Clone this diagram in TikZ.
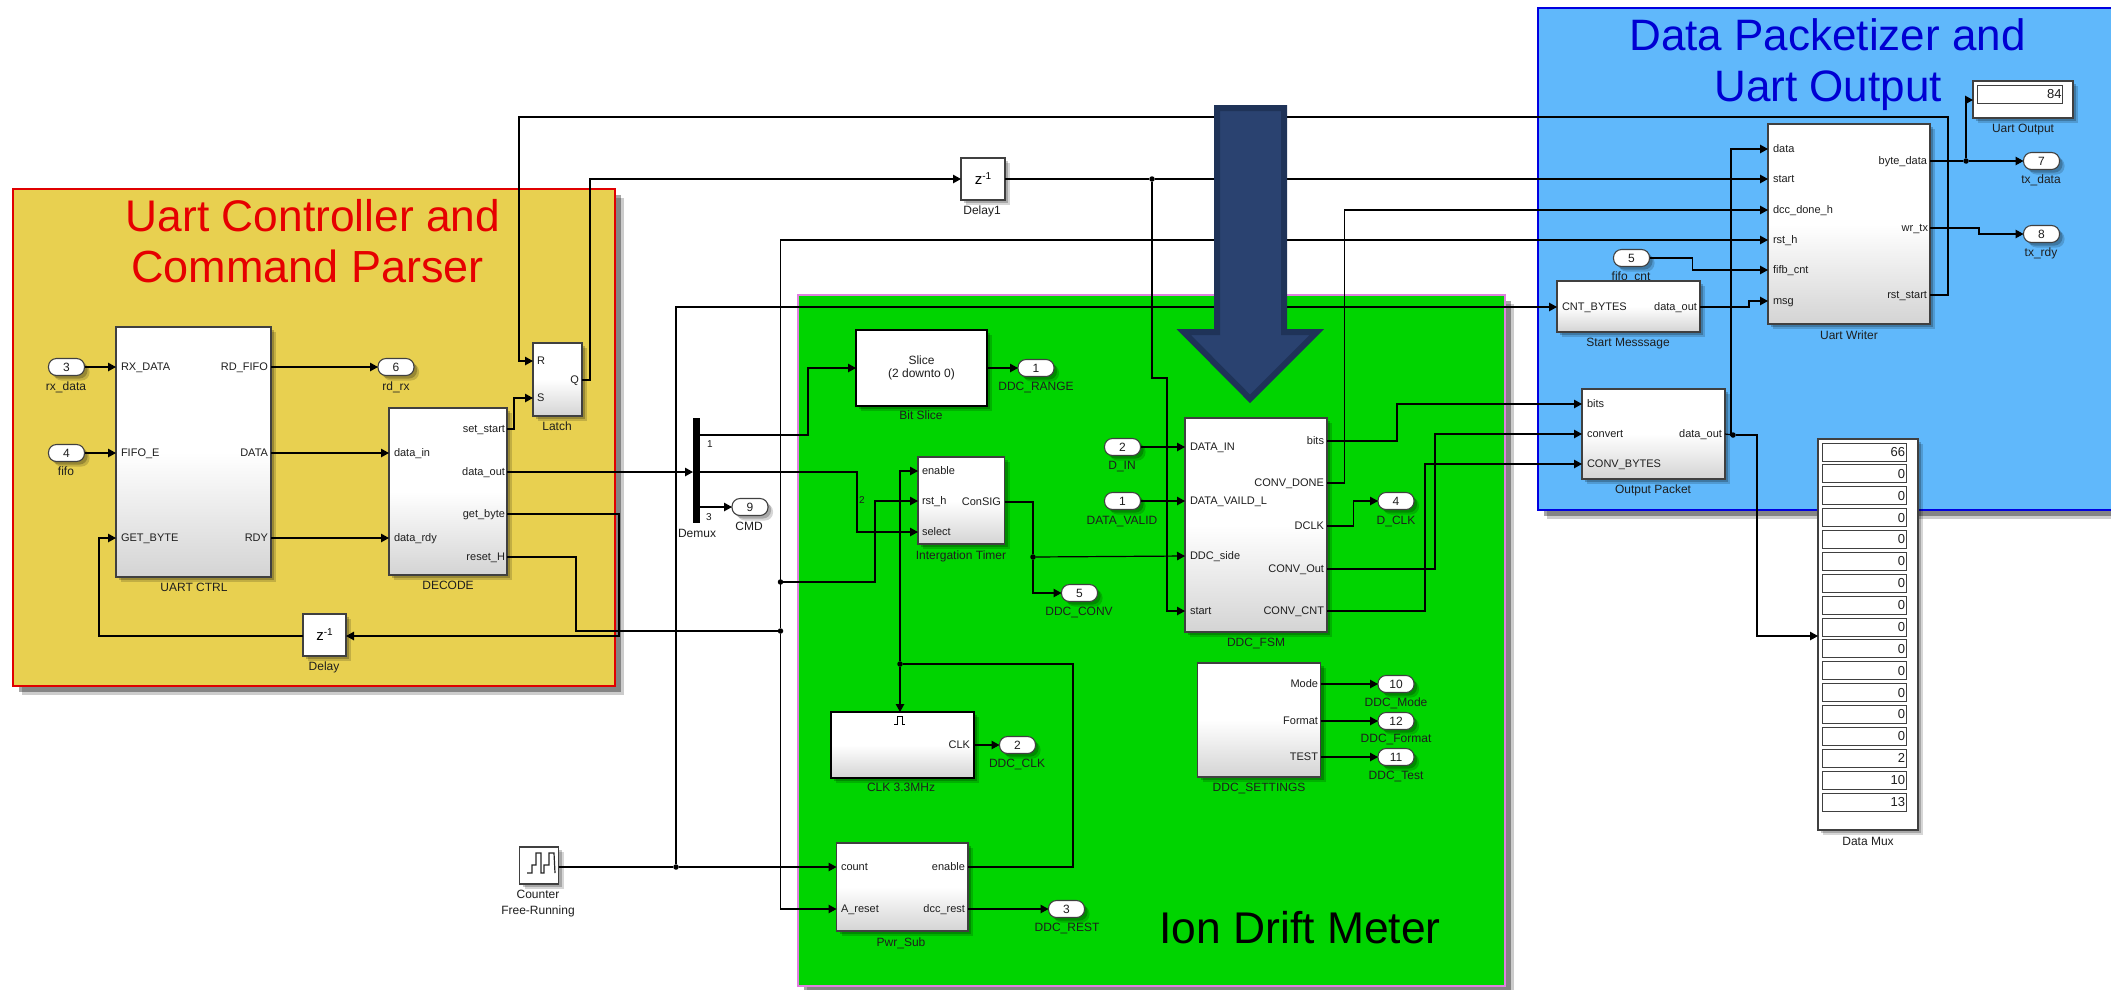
\documentclass[tikz,border=0pt]{standalone}
\usepackage{fontspec}
\setmainfont{Liberation Sans}
\usetikzlibrary{arrows.meta,shadows}
\definecolor{uartbg}{HTML}{E8D050}
\definecolor{greenbg}{HTML}{00D400}
\definecolor{bluebg}{HTML}{60B8FB}
\definecolor{arrowfill}{HTML}{2A4270}
\definecolor{arrowline}{HTML}{1F3358}
\definecolor{ink}{HTML}{1E1E1E}
\definecolor{redline}{HTML}{E00000}
\definecolor{pinkline}{HTML}{E080E0}
\definecolor{blueline}{HTML}{0000E0}
\definecolor{redtitle}{HTML}{E60000}
\definecolor{bluetitle}{HTML}{0000D2}
\newcommand\sz[1]{\fontsize{#1}{#1}\selectfont}
\tikzset{
 softshadow/.style={general shadow={fill=black,opacity=.16,shadow xshift=5pt,shadow yshift=-5pt},
                    general shadow={fill=black,opacity=.22,shadow xshift=3pt,shadow yshift=-3pt}},
 bigshadow/.style={general shadow={fill=black,opacity=.2,shadow xshift=9pt,shadow yshift=-9pt},
                   general shadow={fill=black,opacity=.35,shadow xshift=6pt,shadow yshift=-6pt}},
 blockbox/.style={draw=black!75,line width=1.2pt,softshadow,top color=white,bottom color=black!17,middle color=white,inner sep=0pt,outer sep=0pt},
 plainbox/.style={draw=black!75,line width=1.2pt,softshadow,fill=white,inner sep=0pt,outer sep=0pt},
 heavybox/.style={draw=black,line width=2.4pt,softshadow,inner sep=0pt,outer sep=0pt},
 groupbox/.style={line width=1.2pt,bigshadow,inner sep=0pt,outer sep=0pt},
 wire/.style={draw=black,line width=1.2pt,line join=miter},
 arrowed/.style={wire,-{Triangle[length=8pt,width=8.5pt]}},
 ptext/.style={inner sep=0pt,outer sep=0pt,text height=8pt,text depth=2pt,text=ink,font=\sz{11}},
 caption/.style={inner sep=0pt,outer sep=0pt,text height=8.5pt,text depth=2.5pt,text=ink,font=\sz{12}},
 pillnode/.style={draw=black!75,line width=1.1pt,fill=white,rounded corners=8pt,minimum width=36pt,minimum height=17pt,inner sep=0pt,outer sep=0pt,softshadow,text=ink,font=\sz{12}},
 junction/.style={circle,fill=black,minimum size=5.5pt,inner sep=0pt,outer sep=0pt},
 title/.style={inner sep=0pt,outer sep=0pt,font=\sz{44}},
 cellbox/.style={draw=black!75,line width=1pt,fill=white,minimum width=84pt,minimum height=18pt,text width=82pt,align=right,inner sep=0pt,outer sep=0pt,text=ink,font=\sz{13}},
}
% name, x1, y1, x2, y2, style, text
\newcommand\blk[7]{%
 \pgfmathsetmacro\bw{#4-#2}\pgfmathsetmacro\bh{#5-#3}%
 \node[#6,minimum width=\bw pt,minimum height=\bh pt] (#1) at ({(#2+#4)/2},{(#3+#5)/2}) {#7};}
\newcommand\pl[4]{\node[ptext,anchor=west] (#1) at (#2,#3) {#4};}
\newcommand\pr[4]{\node[ptext,anchor=east] (#1) at (#2,#3) {#4};}
\newcommand\lbl[4]{\node[caption] (#1) at (#2,#3) {#4};}
\newcommand\pill[4]{\node[pillnode] (#1) at (#2,#3) {#4};}
\newcommand\jn[3]{\node[junction] (#1) at (#2,#3) {};}
\newcommand\zinv{\sz{15}z\raisebox{5pt}{\sz{10}-1}}
\begin{document}
\begin{tikzpicture}[x=1pt,y=-1pt]
\path[use as bounding box,clip] (0,0) rectangle (2111,989);
\fill[white] (0,0) rectangle (2111,989);
% group panels
\blk{uartpanel}{13}{189}{615}{686}{groupbox,draw=redline,fill=uartbg}{}
\blk{greenpanel}{798}{295}{1505}{986}{groupbox,draw=pinkline,fill=greenbg}{}
\blk{bluepanel}{1538}{8}{2135}{510}{groupbox,draw=blueline,fill=bluebg}{}
% titles
\node[title,font=\sz{44.3},text=redtitle,anchor=base] (uarttitle1) at (313,231) {Uart Controller and};
\node[title,font=\sz{45},text=redtitle,anchor=base] (uarttitle2) at (307.5,282) {Command Parser};
\node[title,text=bluetitle,anchor=base] (bluetitle1) at (1827.5,50) {Data Packetizer and};
\node[title,text=bluetitle,anchor=base] (bluetitle2) at (1828,101) {Uart Output};
\node[title,font=\sz{44.4},text=black,anchor=base] (greentitle) at (1300,943) {Ion Drift Meter};
% captions (the fifo_cnt caption is partly covered by Start Messsage)
\lbl{c_rxdata}{66}{387}{rx\_data}
\lbl{c_fifo}{66}{472}{fifo}
\lbl{c_rdrx}{396}{387}{rd\_rx}
\lbl{c_uartctrl}{194}{588}{UART CTRL}
\lbl{c_decode}{448}{586}{DECODE}
\lbl{c_latch}{557}{427}{Latch}
\lbl{c_delay}{324}{667}{Delay}
\lbl{c_demux}{697}{534}{Demux}
\lbl{c_cmd}{749}{527}{CMD}
\lbl{c_delay1}{982}{211}{Delay1}
\lbl{c_bitslice}{921}{416}{Bit Slice}
\lbl{c_range}{1036}{387}{DDC\_RANGE}
\lbl{c_timer}{961}{556}{Intergation Timer}
\lbl{c_conv}{1079}{612}{DDC\_CONV}
\lbl{c_dclk}{1396}{521}{D\_CLK}
\lbl{c_din}{1122}{466}{D\_IN}
\lbl{c_dvalid}{1122}{521}{DATA\_VALID}
\lbl{c_fsm}{1256}{643}{DDC\_FSM}
\lbl{c_settings}{1259}{788}{DDC\_SETTINGS}
\lbl{c_mode}{1396}{703}{DDC\_Mode}
\lbl{c_format}{1396}{739}{DDC\_Format}
\lbl{c_test}{1396}{776}{DDC\_Test}
\lbl{c_clk}{901}{788}{CLK 3.3MHz}
\lbl{c_ddcclk}{1017}{764}{DDC\_CLK}
\lbl{c_pwr}{901}{943}{Pwr\_Sub}
\lbl{c_rest}{1067}{928}{DDC\_REST}
\lbl{c_counter}{538}{895}{Counter}
\lbl{c_free}{538}{911}{Free-Running}
\lbl{c_fifocnt}{1631}{277}{fifo\_cnt}
\lbl{c_start}{1628}{343}{Start Messsage}
\lbl{c_writer}{1849}{336}{Uart Writer}
\lbl{c_output}{1653}{490}{Output Packet}
\lbl{c_uartout}{2023}{129}{Uart Output}
\lbl{c_txdata}{2041}{180}{tx\_data}
\lbl{c_txrdy}{2041}{253}{tx\_rdy}
\lbl{c_mux}{1868}{842}{Data Mux}
\node[ptext,font=\sz{10}] (d1) at (710,444) {1};
\node[ptext,font=\sz{10}] (d2) at (862,500) {2};
\node[ptext,font=\sz{10}] (d3) at (709,517) {3};
% blocks
\blk{uartctrl}{116}{327}{271}{577}{blockbox}{}
\blk{decode}{389}{408}{507}{575}{blockbox}{}
\blk{latch}{533}{343}{582}{416}{blockbox}{}
\blk{delay}{303}{614}{346}{656}{plainbox}{\zinv}
\blk{delayone}{961}{158}{1005}{200}{plainbox}{\zinv}
\blk{demux}{693}{418}{700}{523}{fill=black,inner sep=0pt,outer sep=0pt}{}
\blk{bitslice}{856}{330}{987}{406}{heavybox,fill=white,align=center,text=ink,font=\sz{12}}{Slice\\[1pt](2 downto 0)}
\blk{timer}{918}{457}{1004.5}{544}{blockbox}{}
\blk{fsm}{1185}{418}{1327}{632}{blockbox}{}
\blk{settings}{1197.5}{663}{1320.5}{777}{blockbox}{}
\blk{clkblk}{831}{712}{974}{778}{heavybox,top color=white,bottom color=black!17,middle color=white}{}
\blk{pwr}{836.5}{843}{968}{931}{blockbox}{}
\blk{counter}{519.5}{847}{558.5}{884}{plainbox}{}
\blk{writer}{1768}{124}{1930}{324}{blockbox}{}
\blk{startmsg}{1557}{281}{1700}{332}{blockbox}{}
\blk{outpkt}{1582}{389}{1725}{479}{blockbox}{}
\blk{uartout}{1973}{81}{2073}{118}{plainbox}{}
\blk{datamux}{1818}{439}{1918}{830}{plainbox}{}
\blk{uartoutval}{1977}{85}{2062}{103}{cellbox,minimum width=85pt,text width=84pt}{84}
\foreach \v [count=\i from 0] in {66,0,0,0,0,0,0,0,0,0,0,0,0,0,2,10,13}{
  \pgfmathsetmacro\cy{452+21.875*\i}
  \node[cellbox] (cell\i) at (1864,\cy) {\v};
}
% named pins whose height is off a block's centre
\coordinate (demuxoutone) at (700,435);
\coordinate (demuxoutthree) at (700,507);
\coordinate (delayin) at (346,636);
\coordinate (delayout) at (303,636);
\coordinate (muxin) at (1818,636);
\coordinate (uartoutin) at (1973,100);
% port labels
\pl{p_rx}{121}{367}{RX\_DATA}\pl{p_fifoe}{121}{453}{FIFO\_E}\pl{p_get}{121}{538}{GET\_BYTE}
\pr{p_rdfifo}{268}{367}{RD\_FIFO}\pr{p_data}{268}{453}{DATA}\pr{p_rdy}{268}{538}{RDY}
\pl{p_datain}{394}{453}{data\_in}\pl{p_datardy}{394}{538}{data\_rdy}
\pr{p_setstart}{505}{429}{set\_start}\pr{p_dataout}{505}{472}{data\_out}\pr{p_getbyte}{505}{514}{get\_byte}\pr{p_reseth}{505}{557}{reset\_H}
\pl{p_r}{537}{361}{R}\pl{p_s}{537}{398}{S}\pr{p_q}{579}{380}{Q}
\pl{p_enable}{922}{471}{enable}\pl{p_rsth}{922}{501}{rst\_h}\pl{p_select}{922}{532}{select}\pr{p_consig}{1001}{502}{ConSIG}
\pl{p_din}{1190}{447}{DATA\_IN}\pl{p_dv}{1190}{501}{DATA\_VAILD\_L}\pl{p_side}{1190}{556}{DDC\_side}\pl{p_start}{1190}{611}{start}
\pr{p_bits}{1324}{441}{bits}\pr{p_done}{1324}{483}{CONV\_DONE}\pr{p_dclk}{1324}{526}{DCLK}\pr{p_cout}{1324}{569}{CONV\_Out}\pr{p_ccnt}{1324}{611}{CONV\_CNT}
\pr{p_mode}{1318}{684}{Mode}\pr{p_format}{1318}{721}{Format}\pr{p_test}{1318}{757}{TEST}
\pr{p_clk}{970}{745}{CLK}
\pl{p_count}{841}{867}{count}\pl{p_areset}{841}{909}{A\_reset}\pr{p_en}{965}{867}{enable}\pr{p_rest}{965}{909}{dcc\_rest}
\pl{p_wdata}{1773}{149}{data}\pl{p_wstart}{1773}{179}{start}\pl{p_wdone}{1773}{210}{dcc\_done\_h}\pl{p_wrst}{1773}{240}{rst\_h}\pl{p_wcnt}{1773}{270}{fifb\_cnt}\pl{p_wmsg}{1773}{301}{msg}
\pr{p_byte}{1927}{161}{byte\_data}\pr{p_wr}{1928}{228}{wr\_tx}\pr{p_rststart}{1927}{295}{rst\_start}
\pl{p_cntb}{1562}{307}{CNT\_BYTES}\pr{p_mout}{1697}{307}{data\_out}
\pl{p_obits}{1587}{404}{bits}\pl{p_oconv}{1587}{434}{convert}\pl{p_obytes}{1587}{464}{CONV\_BYTES}\pr{p_oout}{1722}{434}{data\_out}
% pills
\pill{in3}{66.5}{367}{3}\pill{in4}{66.5}{453}{4}\pill{out6}{396}{367}{6}
\pill{out9}{750}{507}{9}\pill{ddc1}{1036}{368}{1}\pill{ddc5}{1079.5}{593}{5}
\pill{din2}{1122.5}{447}{2}\pill{dv1}{1122.5}{501}{1}\pill{dclk4}{1396}{501}{4}
\pill{out10}{1396}{684}{10}\pill{out12}{1396}{721}{12}\pill{out11}{1396}{757}{11}
\pill{ddc2}{1017.5}{745}{2}\pill{ddc3}{1066.5}{909}{3}
\pill{in5}{1631.5}{258}{5}\pill{tx7}{2041.5}{161}{7}\pill{tx8}{2041.5}{234}{8}
% junctions
\jn{j_a}{780.5}{582}\jn{j_b}{780.5}{631}\jn{j_c}{676}{867}\jn{j_d}{1152}{179}\jn{j_e}{900}{664}\jn{j_f}{1033}{557}\jn{j_g}{1733}{435}\jn{j_h}{1966}{161}
% wires
\draw[arrowed] (in3.east) -- (p_rx -| uartctrl.west);
\draw[arrowed] (in4.east) -- (p_fifoe -| uartctrl.west);
\draw[arrowed] (p_rdfifo -| uartctrl.east) -- (out6.west);
\draw[arrowed] (p_data -| uartctrl.east) -- (p_datain -| decode.west);
\draw[arrowed] (p_rdy -| uartctrl.east) -- (p_datardy -| decode.west);
\draw[arrowed] (p_setstart -| decode.east) -- (514,429) -- (514,398) -- (p_s -| latch.west);
\draw[arrowed] (p_dataout -| decode.east) -- (p_dataout -| demux.west);
\draw[arrowed] (p_getbyte -| decode.east) -- (619,514) -- (619,636) -- (delayin);
\draw[arrowed] (delayout) -- (99,636) -- (99,538) -- (p_get -| uartctrl.west);
\draw[wire] (p_reseth -| decode.east) -- (576,557) -- (576,631) -- (j_b);
\draw[arrowed] (p_q -| latch.east) -- (590,380) -- (590,179) -- (delayone.west);
\draw[arrowed] (p_rststart -| writer.east) -- (1948,295) -- (1948,117) -- (519,117) -- (519,361) -- (p_r -| latch.west);
\draw[wire] (delayone.east) -- (j_d);
\draw[arrowed] (j_d) -- (p_wstart -| writer.west);
\draw[arrowed] (j_d) -- (1152,378) -- (1167,378) -- (1167,611) -- (p_start -| fsm.west);
\draw[arrowed] (p_done -| fsm.east) -- (1344.5,483) -- (1344.5,210) -- (p_wdone -| writer.west);
\draw[arrowed] (j_b) -- (780.5,240) -- (p_wrst -| writer.west);
\draw[arrowed] (j_a) -- (875,582) -- (875,501) -- (p_rsth -| timer.west);
\draw[arrowed] (j_b) -- (780.5,909) -- (p_areset -| pwr.west);
\draw[wire] (counter.east |- j_c) -- (j_c);
\draw[arrowed] (j_c) -- (p_count -| pwr.west);
\draw[arrowed] (j_c) -- (676,307) -- (p_cntb -| startmsg.west);
\draw[wire] (p_en -| pwr.east) -- (1073,867) -- (1073,664) -- (j_e);
\draw[arrowed] (j_e) -- (900,471) -- (p_enable -| timer.west);
\draw[arrowed] (j_e) -- (j_e |- clkblk.north);
\draw[arrowed] (demuxoutone) -- (808,435) -- (808,368) -- (bitslice.west);
\draw[arrowed] (p_dataout -| demux.east) -- (857,472) -- (857,532) -- (p_select -| timer.west);
\draw[arrowed] (demuxoutthree) -- (out9.west);
\draw[arrowed] (bitslice.east |- ddc1) -- (ddc1.west);
\draw[wire] (p_consig -| timer.east) -- (1033,502) -- (j_f);
\draw[arrowed] (j_f) -- (p_side -| fsm.west);
\draw[arrowed] (j_f) -- (1033,593) -- (ddc5.west);
\draw[arrowed] (din2.east) -- (p_din -| fsm.west);
\draw[arrowed] (dv1.east) -- (p_dv -| fsm.west);
\draw[arrowed] (p_bits -| fsm.east) -- (1397,441) -- (1397,404) -- (p_obits -| outpkt.west);
\draw[arrowed] (p_cout -| fsm.east) -- (1435,569) -- (1435,434) -- (p_oconv -| outpkt.west);
\draw[arrowed] (p_ccnt -| fsm.east) -- (1425,611) -- (1425,464) -- (p_obytes -| outpkt.west);
\draw[arrowed] (p_dclk -| fsm.east) -- (1353.5,526) -- (1353.5,501) -- (dclk4.west);
\draw[arrowed] (p_mode -| settings.east) -- (out10.west);
\draw[arrowed] (p_format -| settings.east) -- (out12.west);
\draw[arrowed] (p_test -| settings.east) -- (out11.west);
\draw[arrowed] (p_clk -| clkblk.east) -- (ddc2.west);
\draw[arrowed] (p_rest -| pwr.east) -- (ddc3.west);
\draw[wire] (p_byte -| writer.east) -- (j_h);
\draw[arrowed] (j_h) -- (tx7.west);
\draw[arrowed] (j_h) -- (1966,100) -- (uartoutin);
\draw[arrowed] (p_wr -| writer.east) -- (1979,228) -- (1979,234) -- (tx8.west);
\draw[arrowed] (in5.east) -- (1692.5,258) -- (1692.5,270) -- (p_wcnt -| writer.west);
\draw[arrowed] (p_mout -| startmsg.east) -- (1749,307) -- (1749,301) -- (p_wmsg -| writer.west);
\draw[wire] (p_oout -| outpkt.east) -- (j_g);
\draw[arrowed] (j_g) -- (1731,435) -- (1731,149) -- (p_wdata -| writer.west);
\draw[arrowed] (j_g) -- (1757,435) -- (1757,636) -- (muxin);
% small symbols
\draw[line width=1pt,black] (894,724) -- (897,724) -- (897,716) -- (902,716) -- (902,724) -- (905,724);
\draw[line width=1.2pt,black!85] (527,873) -- (532,873) -- (532,865) -- (536,865) -- (536,853) -- (541,853) -- (541,873) -- (544,873) -- (544,865) -- (549,865) -- (549,853) -- (554,853) -- (555,873);
% big arrow
\draw[draw=arrowline,fill=arrowfill,line width=6pt,line join=miter,miter limit=6]
  (1217,108) -- (1284,108) -- (1284,332) -- (1316.8,332) -- (1250,398.8) -- (1183.7,332) -- (1217,332) -- cycle;
\end{tikzpicture}
\end{document}
